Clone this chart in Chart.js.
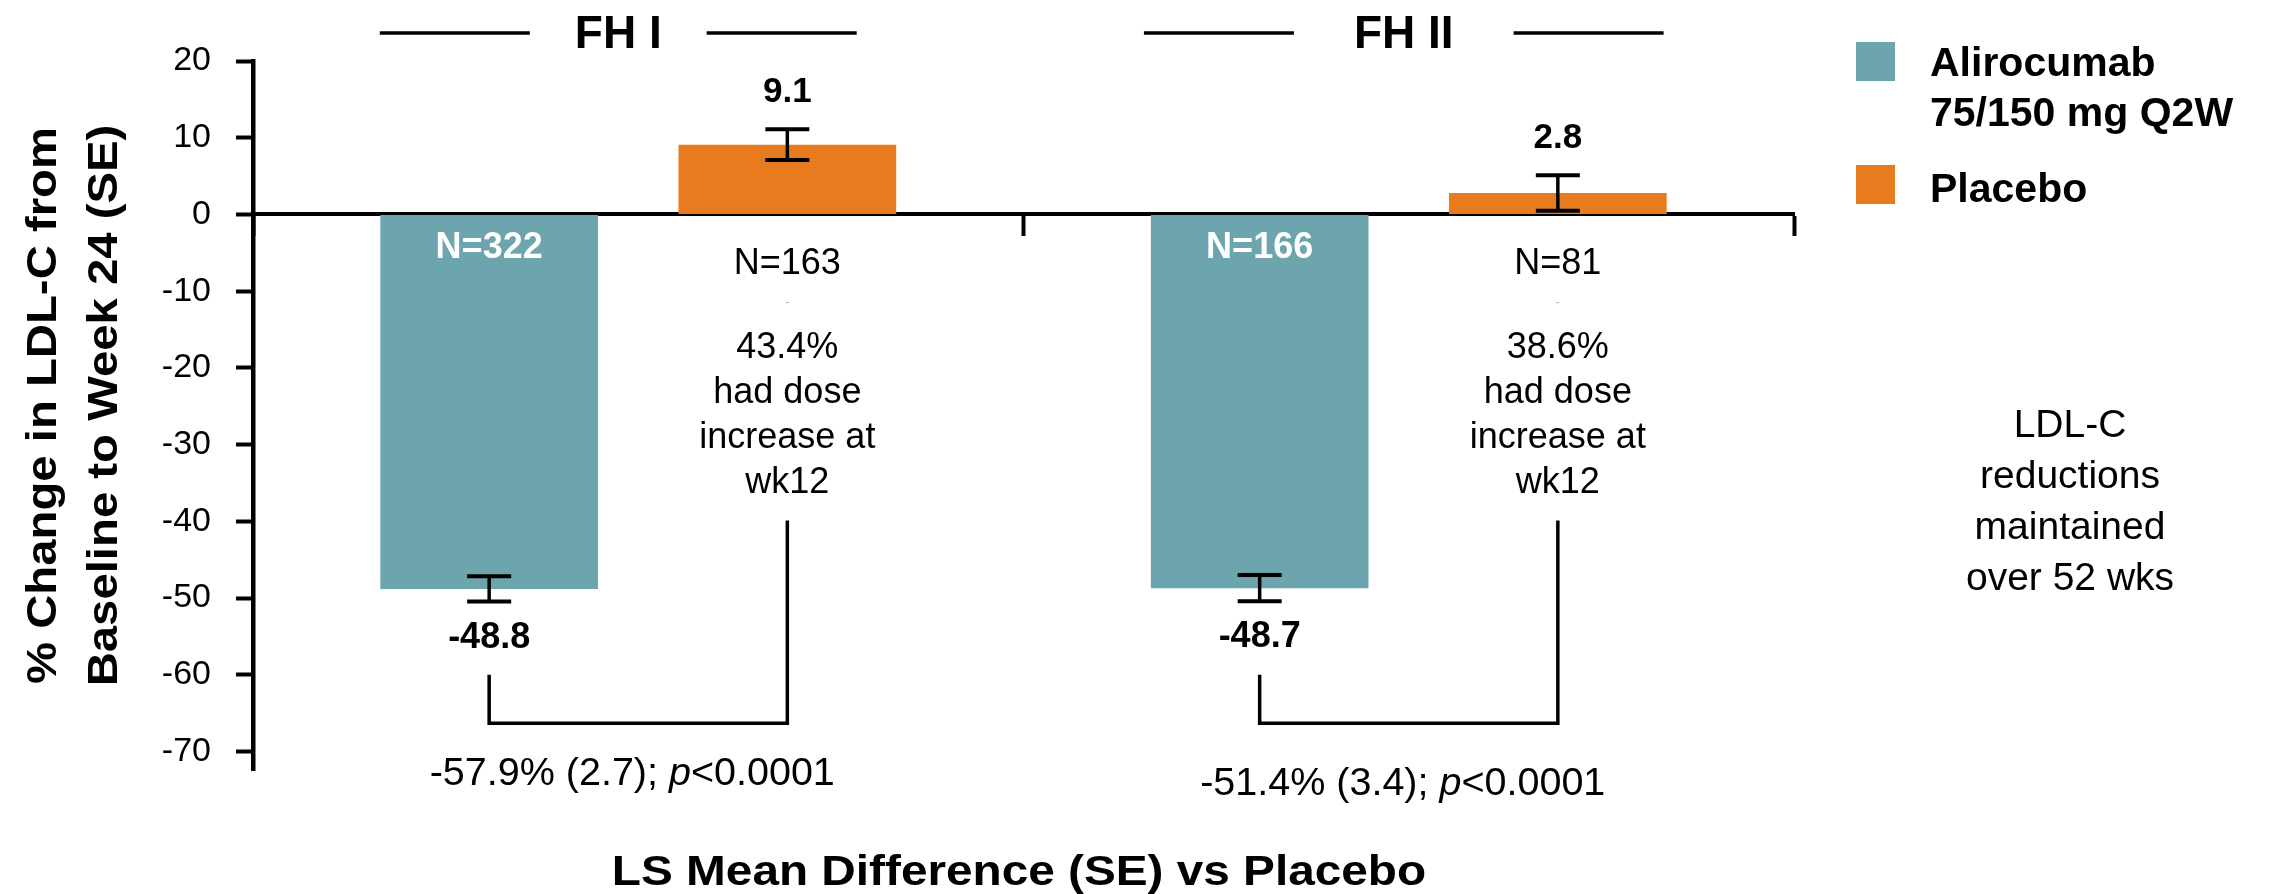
<!DOCTYPE html>
<html>
<head>
<meta charset="utf-8">
<script src="https://cdn.jsdelivr.net/npm/chart.js@4.4.1/dist/chart.umd.min.js"></script>
<style>
  html, body { margin: 0; padding: 0; background: #fff; }
  #wrap { position: relative; width: 2269px; height: 894px; }
</style>
</head>
<body>
<div id="wrap"><canvas id="chart"></canvas></div>
<script>
const groups = ['FH I', 'FH II']
const alirocumab = [-48.8, -48.7]
const placebo = [9.1, 2.8]
const alirocumabSE = [1.65, 1.7]
const placeboSE = [2.0, 2.3]
const alirocumabN = ['N=322', 'N=166']
const placeboN = ['N=163', 'N=81']
const doseIncrease = ['43.4%', '38.6%']
const doseNote = ['had dose', 'increase at', 'wk12']
const lsDiff = ['-57.9% (2.7); ', '-51.4% (3.4); ']
const pValues = ['<0.0001', '<0.0001']
const yTicks = [20, 10, 0, -10, -20, -30, -40, -50, -60, -70]
const seriesNames = [['Alirocumab', '75/150 mg Q2W'], ['Placebo']]
const sideNote = ['LDL-C', 'reductions', 'maintained', 'over 52 wks']
const yTitle = ['% Change in LDL-C from', 'Baseline to Week 24 (SE)']
const xTitle = 'LS Mean Difference (SE) vs Placebo'

const TEAL = '#6ca5ad'
const ORANGE = '#e87b1e'
const FONT = "'Liberation Sans', Arial, sans-serif"

Chart.defaults.font.family = FONT

function drawText(ctx, str, x, y, opts) {
  const o = Object.assign({ size: 36, weight: 'normal', style: 'normal', color: '#000', align: 'center', sx: 1, rotate: 0 }, opts)
  ctx.save()
  ctx.font = `${o.style} ${o.weight} ${o.size}px ${FONT}`
  ctx.fillStyle = o.color
  ctx.textAlign = o.align
  ctx.textBaseline = 'alphabetic'
  ctx.translate(x, y)
  if (o.rotate) ctx.rotate(o.rotate)
  ctx.scale(o.sx, 1)
  ctx.fillText(str, 0, 0)
  ctx.restore()
}

function strokePath(ctx, pts, width) {
  ctx.save()
  ctx.strokeStyle = '#000'
  ctx.lineWidth = width
  ctx.beginPath()
  pts.forEach((p, k) => k ? ctx.lineTo(p[0], p[1]) : ctx.moveTo(p[0], p[1]))
  ctx.stroke()
  ctx.restore()
}

function errorBar(ctx, x, top, bottom) {
  strokePath(ctx, [[x, top], [x, bottom]], 3.5)
  strokePath(ctx, [[x - 22, top], [x + 22, top]], 4)
  strokePath(ctx, [[x - 22, bottom], [x + 22, bottom]], 4)
}

const annotations = {
  id: 'annotations',
  afterDatasetsDraw(chart) {
    const ctx = chart.ctx
    const y = chart.scales.y
    const zero = y.getPixelForValue(0)
    const teal = chart.getDatasetMeta(0).data
    const orange = chart.getDatasetMeta(1).data

    groups.forEach((g, i) => {
      const a = teal[i], p = orange[i]
      const aTop = y.getPixelForValue(alirocumab[i] + alirocumabSE[i])
      const aBot = y.getPixelForValue(alirocumab[i] - alirocumabSE[i])
      const pTop = y.getPixelForValue(placebo[i] + placeboSE[i])
      const pBot = y.getPixelForValue(placebo[i] - placeboSE[i])
      errorBar(ctx, a.x, aTop, aBot)
      errorBar(ctx, p.x, pTop, pBot)

      drawText(ctx, placebo[i].toFixed(1), p.x, pTop - 27, { size: 35, weight: 'bold' })
      drawText(ctx, alirocumab[i].toFixed(1), a.x, aBot + 46, { size: 36, weight: 'bold' })

      drawText(ctx, alirocumabN[i], a.x, zero + 44, { size: 36, weight: 'bold', color: '#fff' })
      drawText(ctx, placeboN[i], p.x, zero + 60, { size: 36 })
      drawText(ctx, '-', p.x, zero + 92, { size: 12, color: '#aaa' })
      ;[doseIncrease[i]].concat(doseNote).forEach((t, k) => {
        drawText(ctx, t, p.x, zero + 144 + k * 44.7, { size: 36 })
      })

      // bracket between the two arms
      const bLeft = y.getPixelForValue(-60)
      const bBase = y.getPixelForValue(-66.3)
      const bRight = y.getPixelForValue(-39.9)
      strokePath(ctx, [[a.x, bLeft], [a.x, bBase], [p.x, bBase], [p.x, bRight]], 3.5)

      // LS mean difference text with italic p
      const size = 39.5
      const cx = (a.x + p.x) / 2 - 6
      const base = bBase + [62, 72][i]
      ctx.save()
      ctx.font = `normal ${size}px ${FONT}`
      const w1 = ctx.measureText(lsDiff[i]).width
      const w3 = ctx.measureText(pValues[i]).width
      ctx.font = `italic ${size}px ${FONT}`
      const w2 = ctx.measureText('p').width
      ctx.restore()
      const x0 = cx - (w1 + w2 + w3) / 2
      drawText(ctx, lsDiff[i], x0, base, { size, align: 'left' })
      drawText(ctx, 'p', x0 + w1, base, { size, style: 'italic', align: 'left' })
      drawText(ctx, pValues[i], x0 + w1 + w2, base, { size, align: 'left' })
    })
  },
  afterDraw(chart) {
    const ctx = chart.ctx
    const x = chart.scales.x
    const titleShift = [-20, -5]
    const titleGap = [45, 60]

    groups.forEach((g, i) => {
      const cx = x.getPixelForValue(i) + titleShift[i]
      ctx.save()
      ctx.font = `bold 46px ${FONT}`
      const w = ctx.measureText(g).width
      ctx.restore()
      drawText(ctx, g, cx, 48, { size: 46, weight: 'bold' })
      const d = w / 2 + titleGap[i]
      strokePath(ctx, [[cx - d - 150, 33], [cx - d, 33]], 3.5)
      strokePath(ctx, [[cx + d, 33], [cx + d + 150, 33]], 3.5)
    })

    // legend
    const swatches = [TEAL, ORANGE]
    const boxTop = [42, 165]
    const baselines = [[76, 126], [202]]
    swatches.forEach((c, i) => {
      ctx.fillStyle = c
      ctx.fillRect(1856, boxTop[i], 39, 39)
      seriesNames[i].forEach((t, k) => {
        drawText(ctx, t, 1930, baselines[i][k], { size: 41, weight: 'bold', align: 'left' })
      })
    })

    sideNote.forEach((t, k) => drawText(ctx, t, 2070, 437 + k * 51, { size: 39 }))

    // axis titles
    const yMid = (chart.chartArea.top + chart.chartArea.bottom) / 2 - 10
    drawText(ctx, yTitle[0], 56, yMid, { size: 43, weight: 'bold', rotate: -Math.PI / 2, sx: 1.1 })
    drawText(ctx, yTitle[1], 117, yMid, { size: 43, weight: 'bold', rotate: -Math.PI / 2, sx: 1.1 })
    drawText(ctx, xTitle, 1019, 885, { size: 43, weight: 'bold', sx: 1.11 })
  }
}

new Chart(document.getElementById('chart'), {
  type: 'bar',
  data: {
    labels: groups,
    datasets: [
      {
        label: seriesNames[0].join(' '),
        data: alirocumab,
        backgroundColor: TEAL,
        borderWidth: 0,
        categoryPercentage: 0.774,
        barPercentage: 0.73
      },
      {
        label: seriesNames[1][0],
        data: placebo,
        backgroundColor: ORANGE,
        borderWidth: 0,
        categoryPercentage: 0.774,
        barPercentage: 0.73
      }
    ]
  },
  options: {
    responsive: true,
    maintainAspectRatio: false,
    animation: false,
    layout: { padding: { left: 0, right: 475, top: 61, bottom: 124 } },
    plugins: {
      legend: { display: false },
      tooltip: { enabled: false }
    },
    scales: {
      x: {
        position: { y: 0 },
        z: 1,
        grid: {
          offset: true,
          drawOnChartArea: false,
          drawTicks: true,
          tickLength: 20,
          tickWidth: 4,
          tickColor: '#000'
        },
        border: { color: '#000', width: 4 },
        ticks: { display: false }
      },
      y: {
        min: -72.4,
        max: 20,
        z: 1,
        afterBuildTicks: s => { s.ticks = yTicks.map(v => ({ value: v })) },
        afterFit: s => { s.width = 253 },
        grid: {
          drawOnChartArea: false,
          tickLength: 17,
          tickWidth: 4,
          tickColor: '#000'
        },
        border: { color: '#000', width: 4.5 },
        ticks: {
          padding: 25,
          color: '#000',
          font: { size: 34 }
        }
      }
    }
  },
  plugins: [annotations]
})
</script>
</body>
</html>
